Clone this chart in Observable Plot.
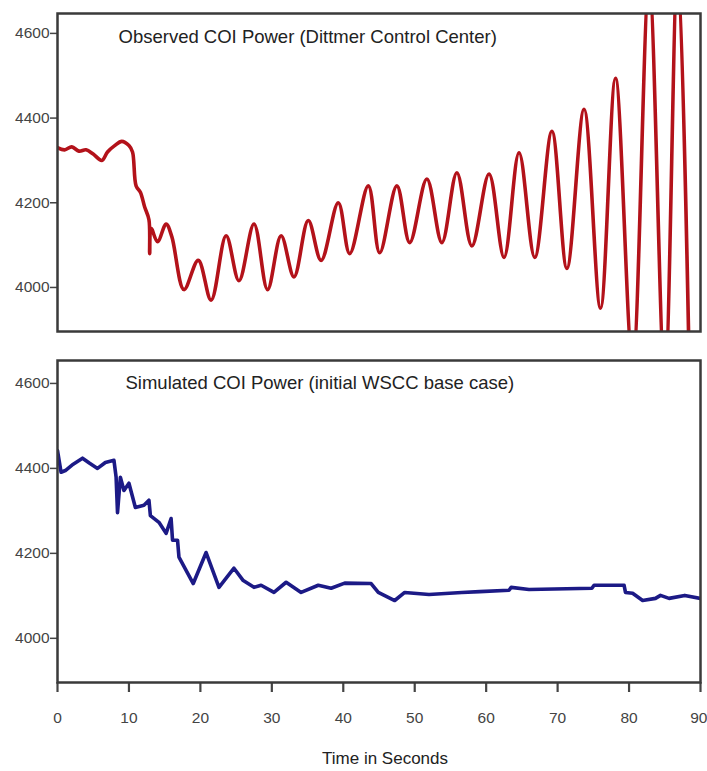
<!DOCTYPE html>
<html>
<head>
<meta charset="utf-8">
<script src="https://cdn.jsdelivr.net/npm/d3@7"></script>
<script src="https://cdn.jsdelivr.net/npm/@observablehq/plot@0.6"></script>
<style>
  html, body { margin: 0; padding: 0; background: #fff; }
  #chart { width: 707px; height: 771px; position: relative; }
  #chart svg { display: block; }
</style>
</head>
<body>
<div id="chart"></div>
<script>
// Observed COI power (Dittmer Control Center) — time (s), MW
const observedT = [0, 1, 2, 3, 4, 5, 6.2, 7, 8, 9, 10, 10.5, 11, 11.6, 12.2, 12.8, 12.9, 13.1, 14, 15.2, 16, 17.7, 19.7, 21.5, 23.6, 25.4, 27.5, 29.4, 31.3, 33.1, 35.1, 36.9, 39.3, 40.9, 43.5, 45.1, 47.5, 49.3, 51.7, 53.8, 55.9, 58.0, 60.4, 62.5, 64.6, 66.8, 69.2, 71.3, 73.7, 76.0, 78.1, 80.5, 82.8, 85.0, 86.8, 88.6];
const observedP = [4330, 4325, 4332, 4322, 4325, 4315, 4300, 4320, 4335, 4345, 4335, 4320, 4240, 4225, 4190, 4160, 4080, 4140, 4108, 4150, 4120, 3995, 4064, 3970, 4122, 4016, 4150, 3995, 4122, 4025, 4158, 4064, 4200, 4080, 4240, 4082, 4240, 4106, 4256, 4106, 4271, 4098, 4268, 4071, 4318, 4071, 4369, 4045, 4421, 3951, 4494, 3820, 4720, 3780, 4760, 3650];

// Simulated COI power (initial WSCC base case)
const simulatedT = [0, 0.5, 1.1, 2.2, 3.5, 4.5, 5.6, 6.7, 7.9, 8.2, 8.4, 8.8, 9.3, 10.0, 10.9, 12.1, 12.8, 13.0, 14.2, 15.2, 15.9, 16.1, 16.8, 17.0, 19.0, 20.8, 22.6, 24.7, 26.0, 27.5, 28.5, 30.3, 32.0, 34.1, 36.5, 38.3, 40.2, 43.9, 44.9, 47.2, 48.6, 52.0, 56.6, 59.1, 63.2, 63.5, 66.0, 74.8, 75.1, 79.3, 79.5, 80.5, 81.9, 83.7, 84.4, 85.6, 87.8, 90];
const simulatedP = [4442, 4391, 4395, 4410, 4424, 4412, 4400, 4414, 4419, 4380, 4296, 4379, 4348, 4365, 4308, 4313, 4325, 4289, 4273, 4247, 4282, 4231, 4231, 4191, 4129, 4202, 4120, 4165, 4136, 4120, 4125, 4108, 4132, 4108, 4125, 4118, 4130, 4129, 4108, 4089, 4108, 4103, 4108, 4110, 4113, 4120, 4115, 4118, 4125, 4125, 4108, 4106, 4089, 4094, 4101, 4094, 4101, 4094];

const yTicks = [4000, 4200, 4400, 4600];
const xTicks = [0, 10, 20, 30, 40, 50, 60, 70, 80, 90];
const xInnerLabels = [0, 10, 20, 30, 40, 50, 60, 70, 80];
const xLastLabel = [90];
const topTitle = ["Observed COI Power (Dittmer Control Center)"];
const bottomTitle = ["Simulated COI Power (initial WSCC base case)"];
const xLabel = ["Time in Seconds"];

const observed = observedT.map((t, i) => ({t, p: observedP[i]}));
const simulated = simulatedT.map((t, i) => ({t, p: simulatedP[i]}));

const font = "'Liberation Sans', Arial, Helvetica, sans-serif";
const frameColor = "#3a3a3a";

const topPlot = Plot.plot({
  width: 707,
  height: 340,
  marginTop: 13,
  marginBottom: 9,
  marginLeft: 57,
  marginRight: 7,
  style: {fontFamily: font, fontSize: "15.5px", color: "#444", background: "#fff"},
  x: {domain: [0, 90], axis: null},
  y: {domain: [3896, 4647], axis: null},
  marks: [
    Plot.axisY({ticks: yTicks, tickSize: 7, tickPadding: 1, tickFormat: d => String(d), label: null, stroke: "#444", strokeWidth: 1.5, fill: "#444"}),
    Plot.line(observed, {x: "t", y: "p", stroke: "#b3121a", strokeWidth: 3.6, curve: "catmull-rom", clip: true}),
    Plot.frame({stroke: frameColor, strokeWidth: 2.5}),
    Plot.text(topTitle, {text: d => d, frameAnchor: "top-left", dx: 61, dy: 29, lineAnchor: "bottom", textAnchor: "start", fontSize: 18.5, fill: "#222"})
  ]
});

const bottomPlot = Plot.plot({
  width: 707,
  height: 431,
  marginTop: 20,
  marginBottom: 89,
  marginLeft: 57,
  marginRight: 7,
  style: {fontFamily: font, fontSize: "15.5px", color: "#444", background: "#fff", overflow: "visible"},
  x: {domain: [0, 90], axis: null},
  y: {domain: [3896, 4654], axis: null},
  marks: [
    Plot.axisY({ticks: yTicks, tickSize: 7, tickPadding: 1, tickFormat: d => String(d), label: null, stroke: "#444", strokeWidth: 1.5, fill: "#444"}),
    Plot.axisX({ticks: xTicks, tickSize: 10, tickFormat: () => "", label: null, stroke: "#444", strokeWidth: 2.2}),
    Plot.axisX({ticks: xInnerLabels, tickSize: 0, tickPadding: 29, tickFormat: d => String(d), label: null, fill: "#444"}),
    Plot.axisX({ticks: xLastLabel, tickSize: 0, tickPadding: 29, tickFormat: d => String(d), label: null, fill: "#444", textAnchor: "end", dx: 7}),
    Plot.line(simulated, {x: "t", y: "p", stroke: "#1c1a86", strokeWidth: 3.6, curve: "linear", clip: true}),
    Plot.frame({stroke: frameColor, strokeWidth: 2.5}),
    Plot.text(bottomTitle, {text: d => d, frameAnchor: "top-left", dx: 68, dy: 28, lineAnchor: "bottom", textAnchor: "start", fontSize: 18.5, fill: "#222"}),
    Plot.text(xLabel, {text: d => d, frameAnchor: "bottom", dx: 6, dy: 81, lineAnchor: "bottom", textAnchor: "middle", fontSize: 17, fill: "#222"})
  ]
});

document.getElementById("chart").append(topPlot, bottomPlot);
</script>
</body>
</html>
